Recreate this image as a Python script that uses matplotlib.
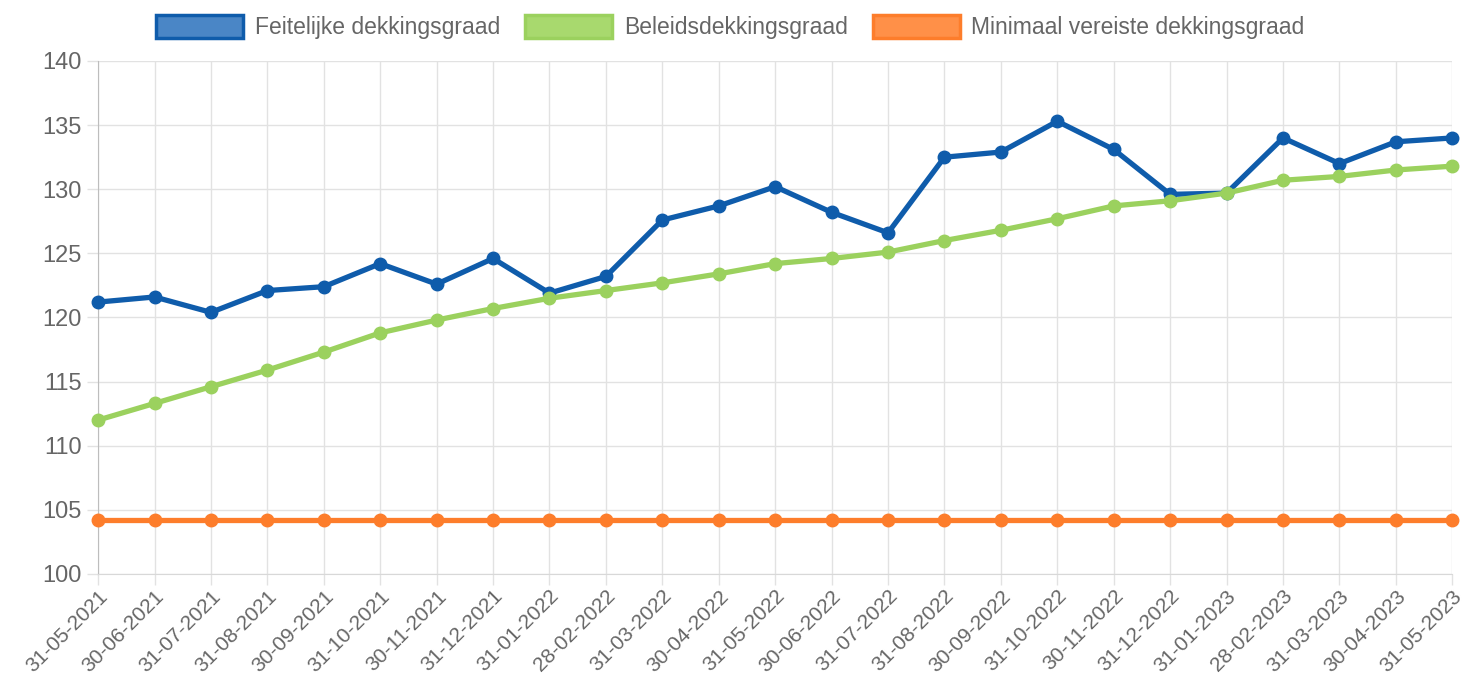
import matplotlib
matplotlib.use("Agg")
import matplotlib.pyplot as plt
from matplotlib.patches import Patch

# Data
dates = [
    "31-05-2021", "30-06-2021", "31-07-2021", "31-08-2021", "30-09-2021",
    "31-10-2021", "30-11-2021", "31-12-2021", "31-01-2022", "28-02-2022",
    "31-03-2022", "30-04-2022", "31-05-2022", "30-06-2022", "31-07-2022",
    "31-08-2022", "30-09-2022", "31-10-2022", "30-11-2022", "31-12-2022",
    "31-01-2023", "28-02-2023", "31-03-2023", "30-04-2023", "31-05-2023",
]
feitelijke = [
    121.2, 121.6, 120.4, 122.1, 122.4, 124.2, 122.6, 124.6, 121.9, 123.2,
    127.6, 128.7, 130.2, 128.2, 126.6, 132.5, 132.9, 135.3, 133.1, 129.6,
    129.7, 134.0, 132.0, 133.7, 134.0,
]
beleids = [
    112.0, 113.3, 114.6, 115.9, 117.3, 118.8, 119.8, 120.7, 121.5, 122.1,
    122.7, 123.4, 124.2, 124.6, 125.1, 126.0, 126.8, 127.7, 128.7, 129.1,
    129.7, 130.7, 131.0, 131.5, 131.8,
]
minimaal = [104.2] * len(dates)

labels = ["Feitelijke dekkingsgraad", "Beleidsdekkingsgraad", "Minimaal vereiste dekkingsgraad"]
line_colors = ["#0f5cab", "#9bd15e", "#fd7d2b"]
face_colors = ["#4a86c6", "#a8d96e", "#ff9048"]

plt.rcParams['font.family'] = ['Liberation Sans', 'DejaVu Sans']

fig = plt.figure(figsize=(14.64, 6.97), dpi=100)
ax = fig.add_axes([0.067, 0.1765, 0.925, 0.736])

x = list(range(len(dates)))
for series, color in zip([feitelijke, beleids, minimaal], line_colors):
    ax.plot(x, series, color=color, linewidth=3.8, marker='o', markersize=9,
            markerfacecolor=color, markeredgecolor=color, solid_joinstyle='round',
            zorder=3, clip_on=False)

ax.set_xlim(0, len(dates) - 1)
ax.set_ylim(100, 140)
ax.set_yticks(range(100, 141, 5))
ax.set_xticks(x)
ax.set_xticklabels(dates, rotation=45, ha='right', rotation_mode='anchor')

ax.grid(True, color='#e2e2e2', linewidth=1)
ax.set_axisbelow(True)
for side in ['top', 'right']:
    ax.spines[side].set_visible(False)
ax.spines['left'].set_color('#bdbdbd')
ax.spines['bottom'].set_color('#d8d8d8')
ax.tick_params(axis='both', colors='#e2e2e2', labelcolor='#666666', length=8, width=1)
ax.tick_params(axis='y', labelsize=17, pad=4)
ax.tick_params(axis='x', labelsize=15, pad=1)

handles = [Patch(facecolor=fc, edgecolor=lc, linewidth=2.5)
           for fc, lc in zip(face_colors, line_colors)]
leg = fig.legend(handles, labels, loc='center', bbox_to_anchor=(0.499, 0.961), ncol=3,
                 frameon=False, fontsize=16.5, handlelength=3.8, handleheight=1.2,
                 columnspacing=1.1, handletextpad=0.5)
for t in leg.get_texts():
    t.set_color('#666666')

fig.savefig("out.png", dpi=100)
